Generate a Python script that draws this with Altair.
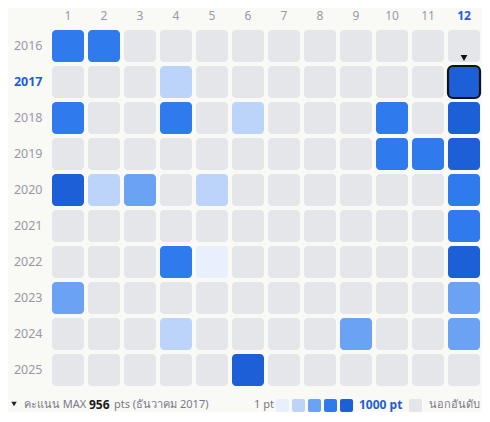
import altair as alt
import pandas as pd

years = [2016, 2017, 2018, 2019, 2020, 2021, 2022, 2023, 2024, 2025]
months = [1, 2, 3, 4, 5, 6, 7, 8, 9, 10, 11, 12]
# monthly score (pts); 0 = out of ranking
scores = [
    [700, 720, 0, 0, 0, 0, 0, 0, 0, 0, 0, 0],
    [0, 0, 0, 310, 0, 0, 0, 0, 0, 0, 0, 956],
    [690, 0, 0, 710, 0, 280, 0, 0, 0, 700, 0, 880],
    [0, 0, 0, 0, 0, 0, 0, 0, 0, 680, 720, 900],
    [870, 300, 520, 0, 290, 0, 0, 0, 0, 0, 0, 730],
    [0, 0, 0, 0, 0, 0, 0, 0, 0, 0, 0, 690],
    [0, 0, 0, 700, 90, 0, 0, 0, 0, 0, 0, 890],
    [530, 0, 0, 0, 0, 0, 0, 0, 0, 0, 0, 510],
    [0, 0, 0, 320, 0, 0, 0, 0, 540, 0, 0, 500],
    [0, 0, 0, 0, 0, 860, 0, 0, 0, 0, 0, 0],
]
thai_months = ["มกราคม", "กุมภาพันธ์", "มีนาคม", "เมษายน", "พฤษภาคม", "มิถุนายน",
               "กรกฎาคม", "สิงหาคม", "กันยายน", "ตุลาคม", "พฤศจิกายน", "ธันวาคม"]
thresholds = [200, 400, 600, 800]
palette = ["#e8effd", "#bcd3fa", "#6ba2f3", "#2f7bed", "#1d5fd6"]
empty_color = "#e5e6ea"
grey_text = "#9a98a6"
hi_blue = "#1d5fd6"
FONT = "Noto Sans"

rows = []
for yi, y in enumerate(years):
    for mi, m in enumerate(months):
        rows.append({"year": y, "month": m, "score": scores[yi][mi]})
df = pd.DataFrame(rows)
mx = df.loc[df["score"].idxmax()]
max_year, max_month, max_score = int(mx["year"]), int(mx["month"]), int(mx["score"])
df_max = pd.DataFrame([{"year": max_year, "month": max_month, "score": max_score}])

W, H = 432, 360
xs = alt.Scale(domain=months, paddingInner=4 / 36, paddingOuter=2 / 36)
ys = alt.Scale(domain=years, paddingInner=4 / 36, paddingOuter=2 / 36)

x_axis = alt.Axis(orient="top", title=None, ticks=False, domain=False, labelAngle=0, grid=False,
                  labelPadding=6, labelFontSize=12, labelFont=FONT,
                  labelColor={"expr": f"datum.value == {max_month} ? '{hi_blue}' : '{grey_text}'"},
                  labelFontWeight={"expr": f"datum.value == {max_month} ? 'bold' : 'normal'"})
y_axis = alt.Axis(title=None, ticks=False, domain=False, labelPadding=8, grid=False,
                  labelFontSize=12.5, labelFont=FONT,
                  labelColor={"expr": f"datum.value == {max_year} ? '{hi_blue}' : '{grey_text}'"},
                  labelFontWeight={"expr": f"datum.value == {max_year} ? 'bold' : 'normal'"})

X = alt.X("month:O", scale=xs, axis=x_axis)
Y = alt.Y("year:O", scale=ys, axis=y_axis)

cells = alt.Chart(df).mark_rect(cornerRadius=4).encode(
    x=X, y=Y,
    color=alt.condition(
        "datum.score > 0",
        alt.Color("score:Q", scale=alt.Scale(type="threshold", domain=thresholds, range=palette), legend=None),
        alt.value(empty_color),
    ),
)

hi = alt.Chart(df_max).mark_rect(cornerRadius=5, fill=None, stroke="#111111", strokeWidth=2.2).encode(x=X, y=Y)
tri = alt.Chart(df_max).mark_point(shape="triangle-down", filled=True, color="#111111", size=45,
                                    opacity=1, yOffset=-24).encode(x=X, y=Y)

layers = [cells, hi, tri]

LY = 377
TXT = "#7a7888"
base = alt.Chart(df_max)
layers.append(base.mark_point(shape="triangle-down", filled=True, color="#222222", size=30, opacity=1).encode(
    x=alt.value(-36), y=alt.value(LY - 1)))
layers.append(base.mark_text(align="left", baseline="middle", font=FONT, fontSize=11, color=TXT).encode(
    x=alt.value(-26), y=alt.value(LY), text=alt.value("คะแนน MAX")))
layers.append(base.mark_text(align="left", baseline="middle", font=FONT, fontSize=12, fontWeight="bold",
                             color="#1a1a1a").encode(x=alt.value(39), y=alt.value(LY), text=alt.value(str(max_score))))
layers.append(base.mark_text(align="left", baseline="middle", font=FONT, fontSize=11, color=TXT).encode(
    x=alt.value(64), y=alt.value(LY),
    text=alt.value(f"pts ({thai_months[max_month - 1]} {max_year})")))
layers.append(base.mark_text(align="left", baseline="middle", font=FONT, fontSize=11, color=TXT).encode(
    x=alt.value(204), y=alt.value(LY), text=alt.value("1 pt")))
for i, c in enumerate(palette):
    x0 = 226 + i * 16
    layers.append(base.mark_rect(cornerRadius=2, color=c).encode(
        x=alt.value(x0), x2=alt.value(x0 + 13), y=alt.value(LY - 6), y2=alt.value(LY + 7)))
layers.append(base.mark_text(align="left", baseline="middle", font=FONT, fontSize=12, fontWeight="bold",
                             color=hi_blue).encode(x=alt.value(309), y=alt.value(LY), text=alt.value("1000 pt")))
layers.append(base.mark_rect(cornerRadius=2, color=empty_color).encode(
    x=alt.value(359), x2=alt.value(372), y=alt.value(LY - 6), y2=alt.value(LY + 7)))
layers.append(base.mark_text(align="right", baseline="middle", font=FONT, fontSize=11, color=TXT).encode(
    x=alt.value(430), y=alt.value(LY), text=alt.value("นอกอันดับ")))

chart = alt.layer(*layers).properties(
    width=W, height=H,
    autosize=alt.AutoSizeParams(type="none"),
    padding={"left": 42, "top": 20, "right": 0, "bottom": 24},
    background="#f9f9f6",
).configure_view(stroke=None)

chart.save("out.html", embed_options={"renderer": "svg", "actions": False})
